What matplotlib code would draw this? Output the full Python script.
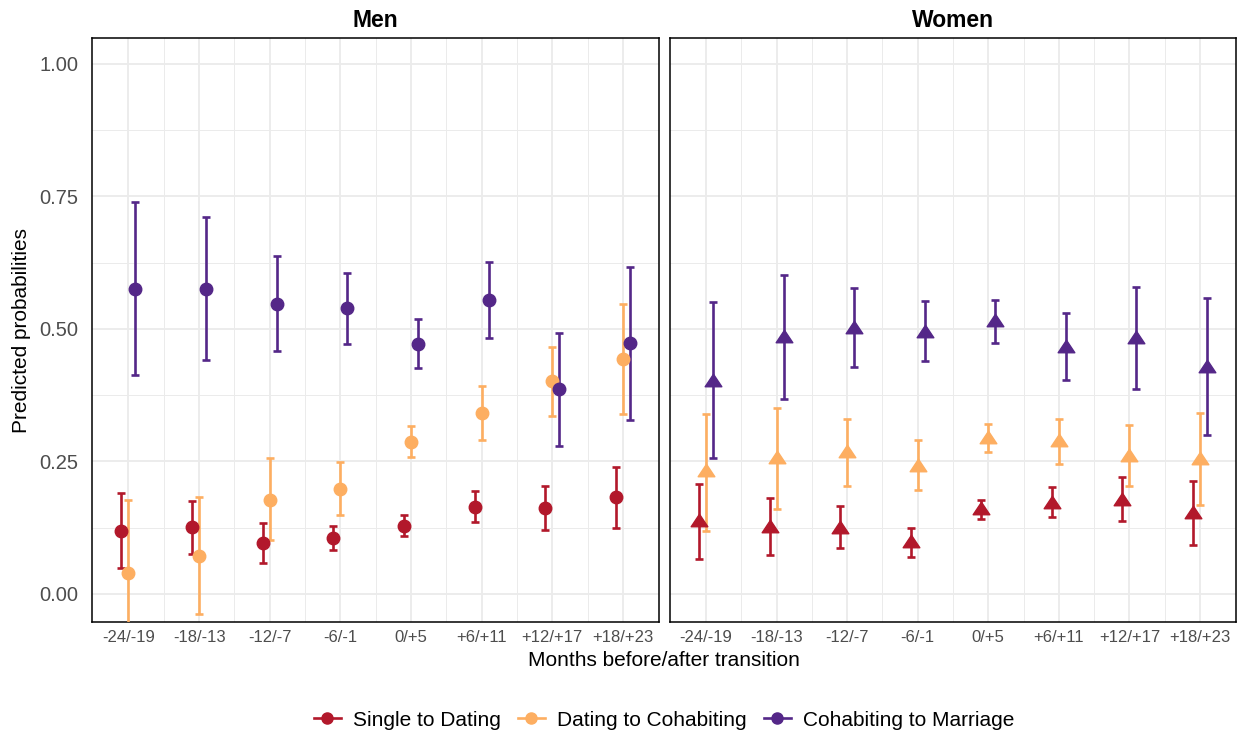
import matplotlib
matplotlib.use("Agg")
import matplotlib.pyplot as plt
import numpy as np
from matplotlib.lines import Line2D
from matplotlib.path import Path

plt.rcParams['font.family'] = ['Liberation Sans', 'DejaVu Sans']

categories = ["-24/-19", "-18/-13", "-12/-7", "-6/-1", "0/+5", "+6/+11", "+12/+17", "+18/+23"]
series_names = ["Single to Dating", "Dating to Cohabiting", "Cohabiting to Marriage"]
colors = ["#B2182B", "#FDAE61", "#542788"]

# Men
men_sd_est = [0.119, 0.126, 0.096, 0.105, 0.129, 0.164, 0.162, 0.182]
men_sd_lo  = [0.048, 0.076, 0.058, 0.082, 0.110, 0.135, 0.121, 0.125]
men_sd_hi  = [0.191, 0.175, 0.133, 0.129, 0.148, 0.194, 0.204, 0.240]
men_dc_est = [0.040, 0.072, 0.178, 0.198, 0.287, 0.342, 0.401, 0.443]
men_dc_lo  = [-0.097, -0.037, 0.101, 0.148, 0.258, 0.291, 0.336, 0.339]
men_dc_hi  = [0.177, 0.183, 0.257, 0.248, 0.317, 0.392, 0.465, 0.547]
men_cm_est = [0.576, 0.576, 0.548, 0.539, 0.472, 0.555, 0.386, 0.473]
men_cm_lo  = [0.413, 0.441, 0.458, 0.472, 0.427, 0.483, 0.280, 0.328]
men_cm_hi  = [0.739, 0.712, 0.637, 0.606, 0.518, 0.626, 0.492, 0.617]

# Women
wom_sd_est = [0.139, 0.129, 0.126, 0.099, 0.163, 0.174, 0.180, 0.155]
wom_sd_lo  = [0.065, 0.074, 0.086, 0.070, 0.141, 0.146, 0.137, 0.093]
wom_sd_hi  = [0.207, 0.181, 0.165, 0.125, 0.177, 0.202, 0.221, 0.213]
wom_dc_est = [0.233, 0.258, 0.270, 0.244, 0.296, 0.290, 0.263, 0.257]
wom_dc_lo  = [0.119, 0.161, 0.204, 0.196, 0.268, 0.245, 0.204, 0.168]
wom_dc_hi  = [0.340, 0.350, 0.331, 0.290, 0.321, 0.330, 0.318, 0.342]
wom_cm_est = [0.404, 0.486, 0.504, 0.497, 0.516, 0.467, 0.485, 0.430]
wom_cm_lo  = [0.256, 0.367, 0.428, 0.439, 0.473, 0.403, 0.386, 0.299]
wom_cm_hi  = [0.550, 0.602, 0.577, 0.552, 0.555, 0.530, 0.579, 0.558]

y_ticks = [0.00, 0.25, 0.50, 0.75, 1.00]
y_ticklabels = ["0.00", "0.25", "0.50", "0.75", "1.00"]

panels = [
    ("Men", "o", [(men_sd_est, men_sd_lo, men_sd_hi),
                  (men_dc_est, men_dc_lo, men_dc_hi),
                  (men_cm_est, men_cm_lo, men_cm_hi)]),
    ("Women", "tri", [(wom_sd_est, wom_sd_lo, wom_sd_hi),
                      (wom_dc_est, wom_dc_lo, wom_dc_hi),
                      (wom_cm_est, wom_cm_lo, wom_cm_hi)]),
]

tri = Path([(0, 0.75), (-1, -0.75), (1, -0.75), (0, 0.75)],
           [Path.MOVETO, Path.LINETO, Path.LINETO, Path.CLOSEPOLY])

W, H = 1242, 736
fig = plt.figure(figsize=(W / 100, H / 100), dpi=100)

panel_px = [(92.4, 659.0), (670.0, 1236.0)]
top_px, bot_px = 38.0, 622.0
offsets = [-0.1, 0.0, 0.1]
x = np.arange(len(categories))

for i, (title, mk, data) in enumerate(panels):
    l, r = panel_px[i]
    ax = fig.add_axes([l / W, (H - bot_px) / H, (r - l) / W, (bot_px - top_px) / H])
    ax.set_xlim(-0.51, 7.51)
    ax.set_ylim(-0.053, 1.049)
    # grid
    ax.set_xticks(x)
    ax.set_xticks(x[:-1] + 0.5, minor=True)
    ax.set_yticks(y_ticks)
    ax.set_yticks([0.125, 0.375, 0.625, 0.875], minor=True)
    ax.grid(True, which='major', color='#EBEBEB', lw=1.3)
    ax.grid(True, which='minor', color='#EBEBEB', lw=0.7)
    ax.set_axisbelow(True)
    ax.tick_params(which='both', length=0)
    ax.set_xticklabels(categories, fontsize=12, color='#4D4D4D')
    ax.tick_params(axis='x', pad=6)
    if i == 0:
        ax.set_yticklabels(y_ticklabels, fontsize=14.5, color='#4D4D4D')
        ax.tick_params(axis='y', pad=10)
    else:
        ax.set_yticklabels([])
    for sp in ax.spines.values():
        sp.set_color('black')
        sp.set_linewidth(1.1)
    ax.set_title(title, fontsize=16.5, fontweight='bold', pad=8)

    for k, (est, lo, hi) in enumerate(data):
        est = np.array(est); lo = np.array(lo); hi = np.array(hi)
        xs = x + offsets[k]
        ax.errorbar(xs, est, yerr=[est - lo, hi - est], fmt='none',
                    ecolor=colors[k], elinewidth=1.9, capsize=2.9, capthick=1.9, zorder=3)
        if mk == "o":
            ax.plot(xs, est, linestyle='none', marker='o', ms=9, color=colors[k], zorder=4)
        else:
            ax.plot(xs, est, linestyle='none', marker=tri, ms=12, color=colors[k], zorder=4)

fig.text(22 / W, 1 - 330 / H, "Predicted probabilities", rotation=90,
         ha='center', va='center', fontsize=15)
fig.text(664 / W, 1 - 661 / H, "Months before/after transition",
         ha='center', va='center', fontsize=15)

handles = [Line2D([0], [0], color=c, marker='o', ms=8, lw=1.9) for c in colors]
fig.legend(handles, series_names, loc='center', bbox_to_anchor=(664 / W, 1 - 720 / H),
           ncol=3, frameon=False, fontsize=15, handlelength=1.3, handletextpad=0.6,
           columnspacing=0.8)

fig.savefig("out.png", dpi=100)
